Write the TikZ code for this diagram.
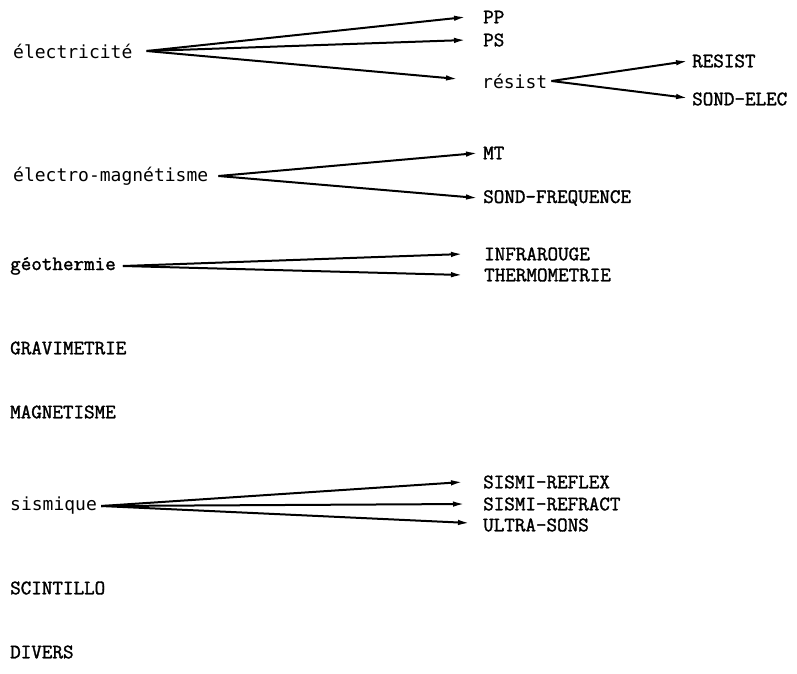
\documentclass[tikz,border=0pt]{standalone}
\usepackage{fontspec}
\newfontfamily\dotfont{DejaVu Sans Mono}
\newfontfamily\typefont[FakeBold=1.6]{Latin Modern Mono}
\usetikzlibrary{arrows.meta, positioning}

\begin{document}
\begin{tikzpicture}[x=1pt, y=-1pt,
    source/.style={anchor=west, inner sep=0pt, font=\dotfont\fontsize{18}{20}\selectfont},
    method/.style={anchor=west, inner sep=0pt, font=\typefont\fontsize{20.5}{22}\selectfont},
    link/.style={-{Latex[length=12pt, width=5.5pt]}, line width=2pt}
]
    \useasboundingbox (0,0) rectangle (797,673);

    % Electricite
    \node[source] (elec) at (13,51) {électricité};
    \node[method] (pp) at (483,17) {PP};
    \node[method] (ps) at (483,40) {PS};
    \node[source] (resist) at (482,81) {résist};
    \node[method] (resistm) at (692,61) {RESIST};
    \node[method] (sondelec) at (692,99) {SOND-ELEC};
    \coordinate (elecO) at ([xshift=14pt]elec.east);
    \coordinate (resistO) at ([xshift=4pt]resist.east);
    \draw[link] (elecO) -- ([xshift=-17pt]pp.west);
    \draw[link] (elecO) -- ([xshift=-17pt]ps.west);
    \draw[link] (elecO) -- ([xshift=-24pt, yshift=2pt]resist.west);
    \draw[link] (resistO) -- ([xshift=-4pt]resistm.west);
    \draw[link] (resistO) -- ([xshift=-4pt, yshift=1pt]sondelec.west);

    % Electro-magnetisme
    \node[source] (emag) at (13,176) {électro-magnétisme};
    \node[method] (mt) at (483,153) {MT};
    \node[method] (sondfreq) at (483,198) {SOND-FREQUENCE};
    \coordinate (emagO) at ([xshift=10pt]emag.east);
    \draw[link] (emagO) -- ([xshift=-5pt]mt.west);
    \draw[link] (emagO) -- ([xshift=-5pt]sondfreq.west);

    % Geothermie
    \node[method] (geo) at (10,266) {géothermie};
    \node[method] (infra) at (484,254) {INFRAROUGE};
    \node[method] (thermo) at (484,275) {THERMOMETRIE};
    \coordinate (geoO) at ([xshift=7pt]geo.east);
    \draw[link] (geoO) -- ([xshift=-21pt]infra.west);
    \draw[link] (geoO) -- ([xshift=-21pt]thermo.west);

    % Methodes seules
    \node[method] (gravi) at (10,348) {GRAVIMETRIE};
    \node[method] (magn) at (10,412) {MAGNETISME};

    % Sismique
    \node[source] (sism) at (10,506) {sismique};
    \node[method] (reflex) at (483,482) {SISMI-REFLEX};
    \node[method] (refract) at (483,504) {SISMI-REFRACT};
    \node[method] (ultra) at (483,525) {ULTRA-SONS};
    \coordinate (sismO) at ([xshift=4pt]sism.east);
    \draw[link] (sismO) -- ([xshift=-20pt]reflex.west);
    \draw[link] (sismO) -- ([xshift=-18pt]refract.west);
    \draw[link] (sismO) -- ([xshift=-13pt, yshift=2pt]ultra.west);

    \node[method] (scint) at (10,588) {SCINTILLO};
    \node[method] (divers) at (10,652) {DIVERS};
\end{tikzpicture}
\end{document}
